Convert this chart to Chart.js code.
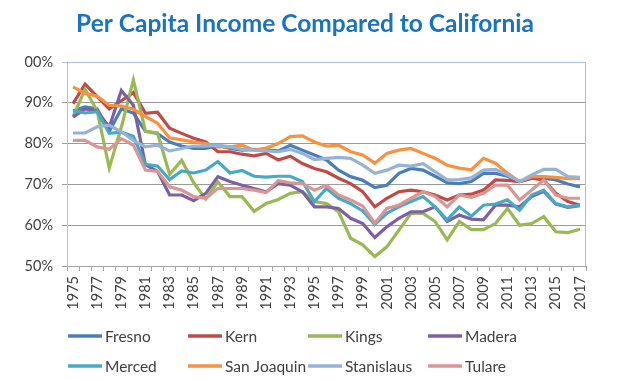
<!DOCTYPE html>
<html>
<head>
<meta charset="utf-8">
<script src="https://cdn.jsdelivr.net/npm/chart.js@4.4.1/dist/chart.umd.min.js"></script>
<style>
  html, body { margin: 0; padding: 0; background: #ffffff; }
  #wrap { width: 632px; height: 382px; }
</style>
</head>
<body>
<div id="wrap"><canvas id="c" width="632" height="382"></canvas></div>
<script>
const years = ["1975","1976","1977","1978","1979","1980","1981","1982","1983","1984",
  "1985","1986","1987","1988","1989","1990","1991","1992","1993","1994",
  "1995","1996","1997","1998","1999","2000","2001","2002","2003","2004",
  "2005","2006","2007","2008","2009","2010","2011","2012","2013","2014",
  "2015","2016","2017"];

const fresno = [88,89,88.5,83,88.5,87.5,83,82.5,80.4,79.4,
  78.8,78.8,79.6,78.8,78.4,78.6,78.4,78.2,79.6,78.4,
  77.2,76,73.5,71.9,71,69.2,69.8,72.7,73.9,73.5,
  72,70.4,70.2,70.7,72.7,72.7,72,70.7,71.5,71.5,
  71.1,70.1,69.4];
const kern = [89.8,94.6,91.5,88.5,90.5,92.5,87.4,87.7,83.8,82.5,
  81.3,80.4,78,78,77.4,77,77.6,76,76.9,75.1,
  73.9,73.1,71.5,70.2,68.2,64.5,66.6,68.2,68.6,68.2,
  67.4,66.2,67.4,67.6,68.6,71.1,71,70.7,71.5,71.1,
  67.8,65.8,64.9];
const kings = [86.6,93.3,88,74,84,95.6,83,82.6,72.5,75.9,
  70.4,66.4,70.6,67,67,63.4,65.3,66.3,67.8,68.2,
  65.8,65.3,63.3,56.8,55.2,52.3,54.7,58.8,62.9,62.9,
  60.9,56.4,60.9,58.9,58.9,60.4,64.1,60,60.4,62.1,
  58.4,58.2,59];
const madera = [86.5,88.5,88,84,93,89.4,74.8,73.2,67.4,67.4,
  66,67.8,71.9,70.7,69.8,69,68.2,70.2,69.8,68.2,
  64.5,64.5,64.1,61.7,60.4,57,59.6,61.7,63.3,63.3,
  64.5,60.9,62.5,61.5,61.3,64.9,64.9,64.5,67,68.3,
  65.2,64.4,64.8];
const merced = [88,87.5,87.8,82.5,82.8,81.8,74.9,74.5,71.2,73.3,
  72.8,73.5,75.6,72.8,73.4,72,71.8,72,72,70.7,
  65.8,69,66.6,65.3,63.5,60.2,62.9,64.5,65.8,67,
  64.5,61.3,64.5,62.2,64.9,65.2,66.2,63.7,67.4,68.6,
  65.3,64.5,64.9];
const sanJoaquin = [93.9,92.3,91.6,89.4,89.2,88.4,86.6,85,81.4,80.9,
  80.4,80,79.2,79.2,79.6,78.4,78.9,80,81.7,81.9,
  80.4,79.4,79.6,78,77.2,75.2,77.6,78.4,78.8,77.6,
  76.4,74.7,74,73.6,76.4,75.2,72.7,70.7,71.9,71.9,
  71.7,71.4,71.4];
const stanislaus = [82.6,82.6,84.1,84.5,82.9,80.8,79.2,79.6,78.2,78.8,
  79.4,79.4,79.6,79.2,78.6,78.4,78.2,78,78.6,77.6,
  76.1,76.4,76.6,76.4,74.7,72.7,73.5,74.7,74.5,75.1,
  73.1,71.1,71.2,71.6,73.5,73.7,72.3,70.7,72.3,73.7,
  73.7,71.9,71.7];
const tulare = [80.8,80.8,79.2,78.6,81.2,79.6,73.5,73.2,69.4,68.6,
  67,66.6,69,69,69,68.6,68,70.9,70.4,70.2,
  68.6,69.8,67.4,66.2,64.7,60.5,64.1,64.9,66.6,68.2,
  67,64.5,67.4,66.8,67.8,69.8,69.8,66.2,68.6,71.1,
  67.4,66.6,66.6];

const seriesNames = ["Fresno","Kern","Kings","Madera","Merced","San Joaquin","Stanislaus","Tulare"];
const seriesValues = [fresno, kern, kings, madera, merced, sanJoaquin, stanislaus, tulare];
const seriesColors = ["#4A7EBB","#BE4B48","#98B954","#7D60A0","#46AAC5","#F69240","#95B3D7","#DA9694"];

const FONT = "Lato, 'Open Sans', sans-serif";

const datasets = seriesNames.map((name, i) => ({
  label: name,
  data: seriesValues[i],
  borderColor: seriesColors[i],
  backgroundColor: seriesColors[i],
  borderWidth: 3.2,
  pointRadius: 0,
  pointHoverRadius: 0,
  tension: 0,
  fill: false,
  order: seriesNames.length - i
}));

const gridLegend = {
  id: 'gridLegend',
  afterDraw(chart) {
    const ctx = chart.ctx;
    ctx.save();
    ctx.font = "15.5px " + FONT;
    ctx.textBaseline = 'middle';
    ctx.textAlign = 'left';
    chart.data.datasets.forEach((ds, i) => {
      const col = i % 4, row = Math.floor(i / 4);
      const x = 68 + col * 120;
      const y = 336 + row * 30;
      ctx.strokeStyle = ds.borderColor;
      ctx.lineWidth = 3.5;
      ctx.lineCap = 'butt';
      ctx.beginPath();
      ctx.moveTo(x, y);
      ctx.lineTo(x + 34, y);
      ctx.stroke();
      ctx.fillStyle = '#404040';
      ctx.fillText(ds.label, x + 37, y + 1);
    });
    ctx.restore();
  }
};

const plotBorder = {
  id: 'plotBorder',
  beforeDatasetsDraw(chart) {
    const {ctx, chartArea: a} = chart;
    ctx.save();
    ctx.strokeStyle = '#A9BFDC';
    ctx.lineWidth = 1;
    ctx.beginPath();
    ctx.moveTo(a.left, a.top + 0.5);
    ctx.lineTo(a.right - 0.5, a.top + 0.5);
    ctx.lineTo(a.right - 0.5, a.bottom);
    ctx.stroke();
    ctx.restore();
  }
};

new Chart(document.getElementById('c'), {
  type: 'line',
  data: { labels: years, datasets },
  options: {
    responsive: false,
    animation: false,
    devicePixelRatio: 1,
    layout: { padding: { left: 24, right: 46, top: 0, bottom: 0 } },
    plugins: {
      legend: { display: false },
      tooltip: { enabled: false },
      title: {
        display: true,
        text: 'Per Capita Income Compared to California',
        color: '#1A73C0',
        font: { family: FONT, size: 24.5, weight: 'bold' },
        padding: { top: 9, bottom: 23.6 }
      }
    },
    scales: {
      x: {
        type: 'category',
        offset: true,
        grid: { offset: true, drawOnChartArea: false, drawTicks: true, tickLength: 5, color: '#A6A6A6' },
        border: { color: '#A6A6A6' },
        ticks: {
          autoSkip: false,
          minRotation: 90,
          maxRotation: 90,
          padding: 5,
          color: '#404040',
          font: { family: FONT, size: 14.5 },
          callback: function(value, index) { return index % 2 === 0 ? this.getLabelForValue(value) : ''; }
        },
        afterFit(scale) { scale.height = 116; }
      },
      y: {
        min: 50,
        max: 100,
        ticks: {
          stepSize: 10,
          padding: 9,
          color: '#404040',
          font: { family: FONT, size: 14.5 },
          callback: v => v + '%'
        },
        grid: {
          color: ctx => (ctx.tick && ctx.tick.value === 100) ? '#A9BFDC' : '#9A9A9A',
          tickLength: 5,
          drawTicks: true
        },
        border: { color: '#BFBFBF' },
        afterFit(scale) { scale.width = 43; }
      }
    }
  },
  plugins: [plotBorder, gridLegend]
});
</script>
</body>
</html>
